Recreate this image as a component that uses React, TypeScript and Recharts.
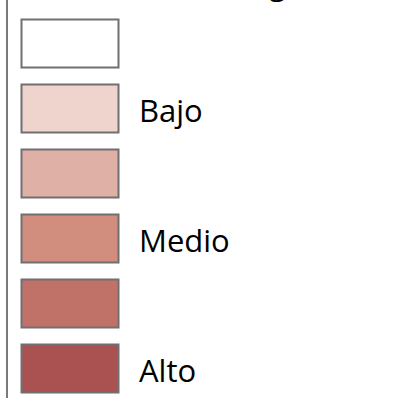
import React from 'react';
import { BarChart, Bar, XAxis, YAxis, Cell, LabelList, Customized } from 'recharts';

const categories = ['n0', 'n1', 'n2', 'n3', 'n4', 'n5'];
const values = [1, 1, 1, 1, 1, 1];
const labels = ['', 'Bajo', '', 'Medio', '', 'Alto'];
const colors = ['#ffffff', '#efd4cd', '#dfb0a5', '#d18d7e', '#c07168', '#aa5252'];
const title = 'Riesgo';

const data = categories.map((c, i) => ({ name: c, value: values[i], label: labels[i] }));

const renderLabel = (props: any) => {
  const { x, y, width, height, value } = props;
  if (!value) return null;
  return (
    <text
      x={Number(x) + Number(width) + 20.5}
      y={Number(y) + Number(height) / 2 + 13.5}
      fontFamily="'Open Sans', sans-serif"
      fontSize={31}
      fill="#000"
    >
      {value}
    </text>
  );
};

const Title = () => (
  <text x={212} y={-5} fontFamily="'Open Sans', sans-serif" fontSize={30} fill="#000">
    {title}
  </text>
);

export default function App() {
  return (
    <div style={{ position: 'absolute', left: 0, top: 0, width: 405, height: 398, overflow: 'hidden', background: '#fff' }}>
      <BarChart
        width={405}
        height={398}
        data={data}
        layout="vertical"
        margin={{ top: 0, right: 92.5, bottom: 0, left: 0 }}
        style={{ overflow: 'visible' }}
      >
        <XAxis type="number" domain={[0, 3]} hide padding={{ left: 14.5, right: 0 }} />
        <YAxis
          type="category"
          dataKey="name"
          width={7}
          tick={false}
          tickLine={false}
          axisLine={{ stroke: '#7a7a7a', strokeWidth: 2 }}
          padding={{ top: 10.5, bottom: -2.5 }}
        />
        <Bar dataKey="value" barSize={48} stroke="#707070" strokeWidth={2} isAnimationActive={false}>
          {data.map((d, i) => (
            <Cell key={d.name} fill={colors[i]} />
          ))}
          <LabelList dataKey="label" content={renderLabel} />
        </Bar>
        <Customized component={Title} />
      </BarChart>
    </div>
  );
}
